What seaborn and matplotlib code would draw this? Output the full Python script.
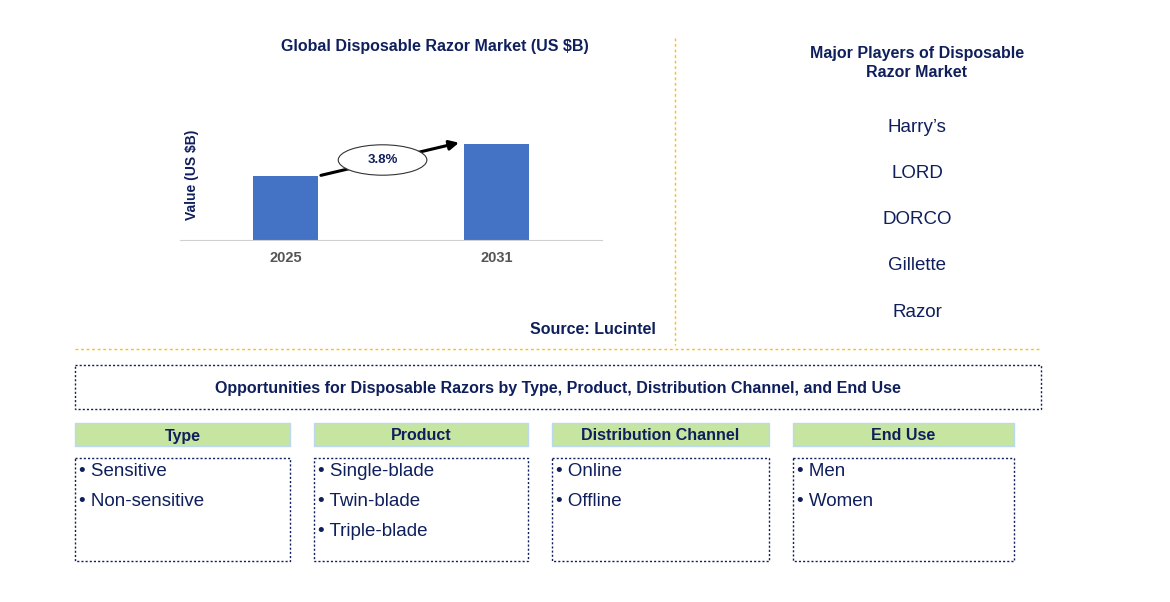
import matplotlib
matplotlib.use("Agg")
import matplotlib.pyplot as plt
import seaborn as sns
import pandas as pd
from matplotlib.patches import Rectangle, Ellipse

years = ["2025", "2031"]
values = [2.0, 3.0]
cagr_label = "3.8%"
players = ["Harry\u2019s", "LORD", "DORCO", "Gillette", "Razor"]
seg_titles = ["Type", "Product", "Distribution Channel", "End Use"]
seg_items = [["Sensitive", "Non-sensitive"],
             ["Single-blade", "Twin-blade", "Triple-blade"],
             ["Online", "Offline"],
             ["Men", "Women"]]

NAVY = "#0f1f5c"
plt.rcParams["font.family"] = "Liberation Sans"
W, H = 1170, 602
fig = plt.figure(figsize=(W/100, H/100), dpi=100)
ov = fig.add_axes([0, 0, 1, 1])
ov.set_xlim(0, W); ov.set_ylim(H, 0); ov.axis("off")

# bar chart
bx0, bx1, by0, by1 = 180, 602, 120, 240
ax = fig.add_axes([bx0/W, 1-by1/H, (bx1-bx0)/W, (by1-by0)/H])
ax.patch.set_alpha(0)
df = pd.DataFrame({"year": years, "value": values})
sns.barplot(data=df, x="year", y="value", color="#4472c4", width=0.31, ax=ax, saturation=1)
ax.set_xlim(-0.5, 1.5); ax.set_ylim(0, 3.75)
ax.set_yticks([]); ax.set_xlabel("")
ax.set_ylabel("Value (US $B)", fontsize=10, fontweight="bold", color=NAVY)
ax.yaxis.set_label_coords(0.045, 0.54)
for s in ["top", "right", "left"]:
    ax.spines[s].set_visible(False)
ax.spines["bottom"].set_color("#d0d0d0")
ax.tick_params(axis="x", length=0, pad=8, labelsize=10.5, labelcolor="#555555")
for t in ax.get_xticklabels():
    t.set_fontweight("bold")
ax.annotate("", xy=(1-0.165, values[1]*1.02), xytext=(0.155, values[0]),
            arrowprops=dict(arrowstyle="-|>", color="black", lw=2.2, mutation_scale=14))
ax.add_patch(Ellipse((0.46, 2.5), 0.42, 0.95, facecolor="white", edgecolor="#333333", lw=0.8, zorder=5))
ax.text(0.46, 2.5, cagr_label, ha="center", va="center", fontsize=9.5, fontweight="bold", color=NAVY, zorder=6)

ov.text(435, 47, "Global Disposable Razor Market (US $B)", ha="center", va="center",
        fontsize=11.5, fontweight="bold", color=NAVY)
ov.text(656, 329, "Source: Lucintel", ha="right", va="center", fontsize=11.5, fontweight="bold", color=NAVY)

# dividers
Y = "#ffc000"
ov.plot([675, 675], [38, 345], color=Y, lw=1, ls=(0, (2, 2)))
ov.plot([75, 1041], [349, 349], color=Y, lw=1, ls=(0, (2, 2)))

# players
ov.text(917, 63, "Major Players of Disposable\nRazor Market", ha="center", va="center",
        fontsize=11.5, fontweight="bold", color=NAVY, linespacing=1.3)
for i, p in enumerate(players):
    ov.text(917, 127 + i*46.3, p, ha="center", va="center", fontsize=13.5, color=NAVY)

# opportunities
ov.add_patch(Rectangle((75, 365), 966, 44, fill=False, ec=NAVY, lw=1, ls=(0, (1.5, 1.5))))
ov.text(558, 388, "Opportunities for Disposable Razors by Type, Product, Distribution Channel, and End Use",
        ha="center", va="center", fontsize=11.5, fontweight="bold", color=NAVY)
cols = [(75, 290), (314, 528), (552, 769), (793, 1014)]
for (x0, x1), t, items in zip(cols, seg_titles, seg_items):
    ov.add_patch(Rectangle((x0, 423), x1-x0, 23, fc="#c6e5a0", ec="#bcd8f0", lw=1))
    ov.text((x0+x1)/2, 436, t, ha="center", va="center", fontsize=11.5, fontweight="bold", color=NAVY)
    ov.add_patch(Rectangle((x0, 458), x1-x0, 103, fill=False, ec=NAVY, lw=1, ls=(0, (1.5, 1.5))))
    for j, it in enumerate(items):
        ov.text(x0+4, 472 + j*30, "\u2022 " + it, ha="left", va="center", fontsize=13.5, color=NAVY)

fig.savefig("out.png", dpi=100)
